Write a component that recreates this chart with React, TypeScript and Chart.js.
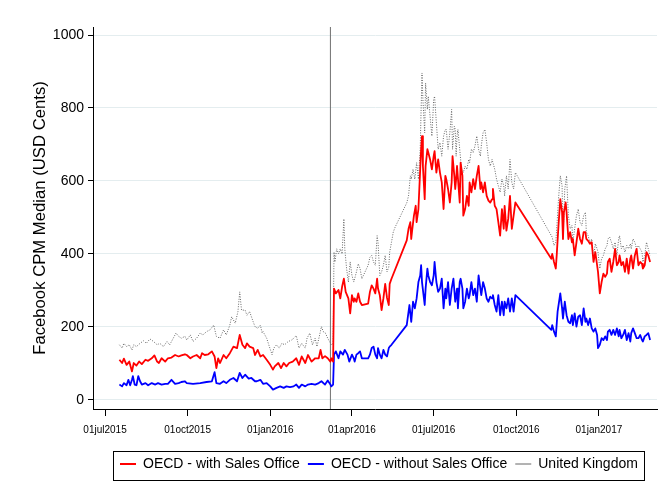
import React, { useEffect, useRef } from 'react';
import { Chart, registerables } from 'chart.js';

Chart.register(...registerables);

// x values are days since 01jul2015
const xTickLabels = ['01jul2015', '01oct2015', '01jan2016', '01apr2016', '01jul2016', '01oct2016', '01jan2017'];
const yTicks = [0, 200, 400, 600, 800, 1000];
const seriesNames = ['OECD - with Sales Office', 'OECD - without Sales Office', 'United Kingdom'];
const yTitle = 'Facebook CPM Median (USD Cents)';
const eventDay = 251; // 08mar2016

const withOffice = [
  [16,110],[19,101],[21,113],[24,96],[27,105],[30,78],[32,101],[35,94],[38,105],[41,98],[45,110],[48,107],[52,114],[55,122],[58,105],[60,101],[63,114],[67,105],[70,114],[74,116],[78,123],[82,119],[85,122],[89,125],[91,123],[95,114],[98,119],[102,123],[106,114],[108,128],[111,123],[115,125],[119,133],[122,119],[124,87],[126,114],[128,101],[132,123],[135,114],[139,128],[143,146],[147,142],[150,178],[153,151],[156,142],[158,155],[161,146],[165,142],[167,123],[170,137],[173,119],[176,123],[180,110],[184,96],[187,83],[189,92],[193,101],[196,87],[199,101],[202,92],[205,101],[209,105],[213,114],[216,96],[219,119],[223,101],[226,123],[230,105],[234,114],[238,114],[240,137],[242,114],[245,120],[248,114],[251,105],[252,114],[254,105],
  [255,305],[257,292],[260,301],[262,278],[264,310],[266,332],[268,296],[271,278],[273,237],[275,287],[277,269],[278,278],[280,269],[282,292],[284,269],[286,260],[293,264],[295,296],[297,314],[299,305],[301,292],[303,332],[304,305],[306,287],[308,246],[310,278],[312,318],[314,280],[316,260],[317,318],[319,332],
  [336,437],[338,469],[340,487],[341,441],[342,464],[344,505],[346,532],[347,487],[349,523],[350,578],[352,687],[353,723],[354,641],[356,550],[357,641],[359,687],[360,678],[362,659],[364,632],[366,668],[367,682],[369,623],[371,659],[373,623],[375,596],[377,523],[379,614],[380,605],[382,578],[384,541],[386,596],[387,668],[389,614],[390,578],[391,605],[392,641],[395,541],[396,650],[398,614],[399,505],[401,523],[403,559],[405,532],[406,596],[408,569],[410,605],[412,578],[414,614],[416,641],[418,578],[419,596],[421,569],[423,596],[425,559],[427,546],[429,541],[431,550],[432,578],[434,532],[436,523],[438,487],[440,450],[442,523],[444,469],[445,532],[447,464],[449,496],[451,559],[453,469],[455,505],[457,541],
  [497,387],[498,400],[500,378],[502,360],[503,396],[505,478],[507,550],[509,514],[510,441],[511,514],[513,541],[514,514],[516,441],[518,460],[520,432],[521,441],[523,396],[525,432],[527,469],[529,441],[531,428],[533,460],[535,460],[536,441],[538,436],[540,428],[542,432],[544,378],[546,405],[548,369],[549,351],[551,292],[553,323],[555,346],[557,337],[559,346],[560,378],[562,387],[564,351],[566,378],[568,414],[570,369],[572,378],[573,396],[575,369],[577,378],[579,351],[581,387],[583,346],[585,387],[586,396],[588,360],[590,396],[592,414],[594,369],[596,378],[598,373],[599,360],[601,369],[603,405],[605,396],[607,378]
];

const withoutOffice = [
  [16,42],[19,37],[21,46],[24,40],[26,55],[28,40],[30,55],[31,65],[33,42],[35,40],[37,65],[39,51],[41,42],[45,46],[48,40],[52,46],[56,42],[59,46],[63,42],[67,44],[70,44],[74,55],[78,44],[82,46],[85,49],[89,51],[91,46],[98,44],[106,46],[113,49],[119,51],[122,76],[124,46],[128,44],[132,51],[135,46],[139,55],[143,60],[147,51],[150,74],[153,60],[156,69],[160,58],[163,60],[167,51],[169,51],[173,55],[176,44],[180,46],[184,37],[187,28],[191,33],[195,37],[199,33],[202,37],[206,35],[210,37],[213,42],[216,33],[219,42],[223,37],[226,42],[230,44],[234,42],[238,46],[241,51],[245,42],[248,53],[251,42],[252,37],[254,42],
  [255,124],[257,133],[260,114],[262,133],[265,124],[267,137],[270,124],[272,105],[275,124],[277,114],[278,105],[280,124],[282,128],[284,133],[286,114],[293,114],[295,124],[297,142],[299,146],[301,124],[303,114],[304,142],[306,124],[308,114],[310,137],[312,124],[314,119],[316,142],[317,146],[319,151],
  [336,205],[339,260],[341,214],[343,269],[345,251],[347,278],[349,323],[351,341],[352,369],[353,323],[356,260],[357,305],[359,360],[360,341],[362,323],[364,314],[366,341],[367,378],[369,323],[371,296],[373,305],[375,332],[377,251],[379,305],[380,278],[382,323],[384,260],[386,305],[388,332],[390,269],[392,305],[393,251],[395,323],[396,332],[398,305],[399,251],[401,269],[403,305],[405,278],[406,287],[408,323],[410,287],[412,305],[414,269],[416,341],[418,305],[419,287],[421,323],[423,305],[425,278],[427,269],[429,283],[431,278],[432,287],[434,260],[436,242],[438,287],[440,232],[442,269],[444,232],[445,269],[447,251],[449,278],[451,242],[453,278],[455,242],[457,287],
  [497,192],[498,205],[500,187],[502,174],[504,242],[507,292],[509,251],[510,223],[512,269],[514,232],[516,214],[518,210],[520,232],[521,205],[523,237],[525,201],[527,228],[529,232],[531,205],[533,251],[535,214],[536,223],[538,205],[540,223],[542,196],[544,187],[546,196],[548,178],[549,142],[551,151],[553,169],[555,164],[557,174],[559,164],[560,187],[562,192],[564,178],[566,192],[568,178],[570,196],[572,174],[573,192],[575,169],[577,178],[579,192],[581,164],[583,183],[585,160],[586,183],[588,196],[590,183],[592,169],[594,169],[596,178],[598,164],[599,160],[601,174],[603,178],[605,183],[607,164]
];

const unitedKingdom = [
  [16,151],[19,142],[21,155],[24,146],[27,151],[30,137],[32,151],[35,146],[39,155],[43,162],[46,155],[50,167],[54,160],[58,151],[61,155],[65,146],[69,160],[72,151],[76,169],[79,183],[82,174],[85,169],[89,174],[91,164],[95,178],[98,160],[102,169],[106,183],[109,178],[113,187],[117,192],[121,205],[124,174],[128,169],[132,192],[135,178],[139,205],[141,228],[145,210],[148,242],[150,296],[152,246],[156,246],[158,232],[161,242],[165,214],[167,201],[170,196],[173,205],[175,183],[176,187],[180,169],[183,146],[186,124],[188,142],[191,151],[194,142],[197,155],[200,151],[204,160],[208,164],[212,174],[213,176],[216,142],[219,155],[223,142],[225,169],[228,183],[231,151],[234,169],[236,146],[239,178],[241,201],[243,187],[245,185],[248,169],[250,160],[252,151],[254,155],
  [255,405],[256,378],[258,414],[260,400],[262,414],[264,400],[266,496],[267,414],[269,360],[271,323],[273,378],[275,341],[277,323],[278,332],[280,351],[282,373],[284,360],[286,332],[293,369],[295,391],[297,396],[299,378],[301,369],[303,450],[304,432],[306,341],[308,351],[310,369],[312,396],[314,351],[316,364],[317,405],[319,432],[321,460],[323,473],
  [336,540],[338,559],[340,614],[341,605],[343,632],[345,605],[347,650],[349,605],[351,687],[352,796],[353,896],[354,823],[356,732],[357,868],[359,796],[360,832],[362,777],[364,723],[366,823],[367,832],[369,759],[371,687],[373,705],[375,668],[377,723],[379,741],[380,741],[382,687],[384,732],[386,796],[387,687],[389,750],[390,741],[391,668],[392,723],[393,741],[395,687],[397,632],[399,623],[401,641],[403,632],[405,659],[406,650],[408,687],[410,678],[412,696],[414,723],[416,687],[418,668],[419,696],[421,732],[423,741],[425,705],[427,659],[429,641],[431,659],[432,650],[434,632],[436,605],[438,587],[440,569],[442,605],[444,587],[445,559],[447,614],[449,578],[451,659],[453,596],[455,578],[457,623],
  [498,446],[500,423],[502,432],[503,469],[505,550],[507,614],[509,587],[510,441],[512,578],[514,614],[516,505],[518,469],[520,478],[521,432],[523,469],[525,505],[527,523],[529,487],[531,478],[533,505],[535,514],[536,460],[538,450],[540,432],[542,441],[544,387],[546,428],[548,414],[549,405],[551,360],[553,387],[555,396],[557,414],[559,423],[560,441],[562,446],[564,432],[566,414],[568,432],[570,396],[572,441],[573,450],[575,414],[577,423],[579,405],[581,423],[583,414],[585,428],[586,414],[588,441],[590,432],[592,414],[594,423],[596,414],[598,405],[599,378],[601,396],[603,432],[605,414],[607,396]
];

const MONTHS = ['jan','feb','mar','apr','may','jun','jul','aug','sep','oct','nov','dec'];
const EPOCH = Date.UTC(2015, 6, 1);
const labelToDay = (s: string) => {
  const d = parseInt(s.slice(0, 2), 10);
  const m = MONTHS.indexOf(s.slice(2, 5));
  const y = parseInt(s.slice(5), 10);
  return Math.round((Date.UTC(y, m, d) - EPOCH) / 86400000);
};
const xTickDays = xTickLabels.map(labelToDay);

const X_MIN = -13.4;
const X_MAX = 614.7;
const Y_MIN = -25;
const Y_MAX = 1022;

const toPoints = (arr: number[][]) => arr.map(([x, y]) => ({ x, y }));

const legendPlugin = {
  id: 'legendFrame',
  afterLayout(chart: any) {
    const lg = chart.legend;
    if (!lg || !lg.lineWidths) return;
    const pad = lg.options.labels.padding;
    const lw = lg.lineWidths[0];
    const start = (lg.left + pad + lg.right - lw) / 2;
    const shift = 120 - start;
    lg.left += shift;
    lg.right += shift;
  },
  afterDraw(chart: any) {
    const lg = chart.legend;
    if (!lg || !lg.lineWidths) return;
    const pad = lg.options.labels.padding;
    const lw = lg.lineWidths[0];
    const start = (lg.left + pad + lg.right - lw) / 2;
    const end = start + lw - pad;
    const ctx = chart.ctx;
    ctx.save();
    ctx.strokeStyle = '#000';
    ctx.lineWidth = 1;
    const x0 = Math.round(start - 7) + 0.5;
    const x1 = Math.round(end + 6) + 0.5;
    const y0 = Math.round(lg.top) + 2.5;
    const y1 = Math.round(lg.bottom) - 0.5;
    ctx.strokeRect(x0, y0, x1 - x0, y1 - y0);
    ctx.restore();
  },
};

export default function App() {
  const ref = useRef<HTMLCanvasElement>(null);

  useEffect(() => {
    if (!ref.current) return;
    Chart.defaults.font.family = "'Liberation Sans', Arial, sans-serif";
    Chart.defaults.color = '#000';
    const chart = new Chart(ref.current, {
      type: 'line',
      data: {
        datasets: [
          {
            label: seriesNames[0],
            data: toPoints(withOffice),
            borderColor: '#ff0000',
            backgroundColor: '#ff0000',
            borderWidth: 1.8,
            pointRadius: 0,
            tension: 0,
            borderJoinStyle: 'round',
          },
          {
            label: seriesNames[1],
            data: toPoints(withoutOffice),
            borderColor: '#0000ff',
            backgroundColor: '#0000ff',
            borderWidth: 1.8,
            pointRadius: 0,
            tension: 0,
            borderJoinStyle: 'round',
          },
          {
            label: seriesNames[2],
            data: toPoints(unitedKingdom),
            borderColor: '#666666',
            backgroundColor: '#666666',
            borderWidth: 1,
            borderDash: [1, 1.5],
            pointRadius: 0,
            tension: 0,
          },
          {
            label: 'event',
            data: [{ x: eventDay, y: Y_MIN }, { x: eventDay, y: Y_MAX }],
            borderColor: '#707070',
            borderWidth: 1,
            pointRadius: 0,
          },
        ],
      },
      options: {
        responsive: false,
        maintainAspectRatio: false,
        devicePixelRatio: 1,
        animation: false,
        events: [],
        layout: { padding: { left: 0, right: 8, top: 27, bottom: 8 } },
        scales: {
          x: {
            type: 'linear',
            min: X_MIN,
            max: X_MAX,
            afterBuildTicks: (s: any) => {
              s.ticks = xTickDays.map((v) => ({ value: v }));
            },
            afterFit: (s: any) => {
              s.height = 40;
            },
            ticks: {
              autoSkip: false,
              maxRotation: 0,
              minRotation: 0,
              padding: 8,
              color: '#000',
              font: { size: 10 },
              callback: (_v: any, i: number) => xTickLabels[i],
            },
            grid: { drawOnChartArea: false, drawTicks: true, tickLength: 7, tickColor: '#000', tickWidth: 1 },
            border: { display: true, color: '#000', width: 1 },
          },
          y: {
            type: 'linear',
            min: Y_MIN,
            max: Y_MAX,
            afterBuildTicks: (s: any) => {
              s.ticks = yTicks.map((v) => ({ value: v }));
            },
            afterFit: (s: any) => {
              s.width = 93;
            },
            ticks: {
              padding: 4,
              color: '#000',
              font: { size: 14 },
              callback: (v: any) => String(v),
            },
            grid: { color: '#e4edef', lineWidth: 1, tickColor: '#000', tickLength: 5, tickWidth: 1 },
            border: { display: true, color: '#000', width: 1 },
            title: {
              display: true,
              text: yTitle,
              color: '#000',
              font: { size: 16.7 },
              padding: { top: 30, bottom: 0 },
            },
          },
        },
        plugins: {
          tooltip: { enabled: false },
          legend: {
            position: 'bottom',
            labels: {
              usePointStyle: true,
              pointStyle: 'line',
              pointStyleWidth: 16,
              padding: 8,
              color: '#000',
              font: { size: 14 },
              filter: (item: any) => item.datasetIndex < 3,
            },
          },
        },
      },
      plugins: [legendPlugin],
    } as any);
    return () => chart.destroy();
  }, []);

  return (
    <div style={{ position: 'absolute', left: 0, top: 0, width: 665, height: 489, background: '#fff' }}>
      <canvas ref={ref} width={665} height={489} style={{ display: 'block', width: 665, height: 489 }} />
    </div>
  );
}
